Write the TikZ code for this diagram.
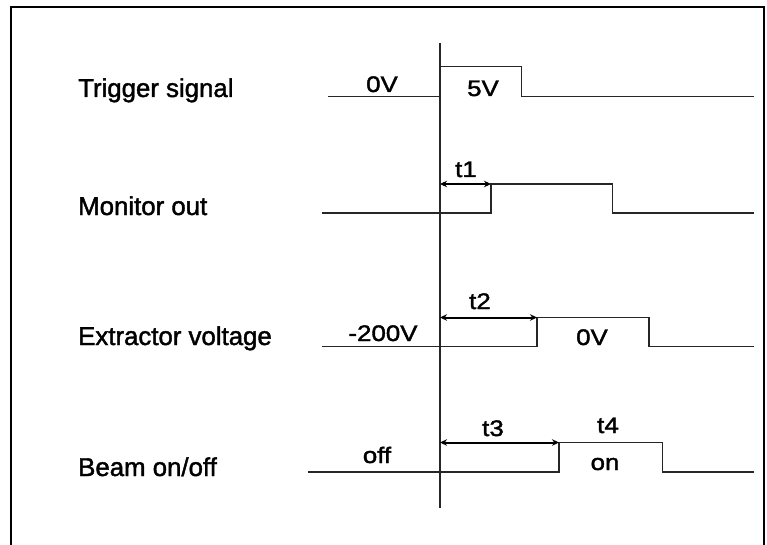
\documentclass[tikz,border=0pt]{standalone}
\usepackage{fontspec}
\setmainfont{Liberation Sans}
\newfontfamily\rowfont[FakeBold=1.6]{Liberation Sans}
\newfontfamily\valfont[FakeStretch=1.15,FakeBold=1.8]{Liberation Sans}
\usetikzlibrary{arrows.meta}
\begin{document}
\begin{tikzpicture}[x=1pt,y=-1pt,
  sig/.style={line width=1.3pt,black!85},
  axisline/.style={line width=1.4pt,black!85},
  frameline/.style={line width=2pt,black},
  dimarrow/.style={line width=2pt,{Stealth[length=7pt,width=6.5pt]}-{Stealth[length=7pt,width=6.5pt]}},
  rowlabel/.style={inner sep=0pt,anchor=base west,font=\rowfont\fontsize{25.8}{30}\selectfont},
  vallabel/.style={inner sep=0pt,anchor=base,font=\valfont\fontsize{22.5}{26}\selectfont}]
\useasboundingbox (0,0) rectangle (767,545);
% frame (open at the bottom)
\draw[frameline] (10.7,545) -- (10.7,6.7) -- (763.5,6.7) -- (763.5,545);
% time axis
\coordinate (axtop) at (440,43);
\coordinate (axbot) at (440,508);
\draw[axisline] (axtop) -- (axbot);
% row labels
\node[rowlabel] (lt) at (78,97) {Trigger signal};
\node[rowlabel] (lm) at (78,215) {Monitor out};
\node[rowlabel] (le) at (78,345) {Extractor voltage};
\node[rowlabel] (lb) at (78,476) {Beam on/off};
% trigger signal
\coordinate (t0) at (328,96.7);
\coordinate (t1a) at (440,96.7);
\coordinate (t1b) at (440,66.7);
\coordinate (t2a) at (521.5,66.7);
\coordinate (t2b) at (521.5,96.7);
\coordinate (t3) at (754,96.7);
\draw[sig] (t0) -- (t1a) -- (t1b) -- (t2a) -- (t2b) -- (t3);
\node[vallabel] (v0) at (382,92) {0V};
\node[vallabel] (v5) at (483,96) {5V};
% monitor out
\coordinate (m0) at (321.5,213);
\coordinate (m1a) at (491,213);
\coordinate (m1b) at (491,184);
\coordinate (m2a) at (612.5,184);
\coordinate (m2b) at (612.5,213);
\coordinate (m3) at (754,213);
\coordinate (ma) at (440,184);
\draw[sig] (m0) -- (m1a) -- (m1b) -- (m2a) -- (m2b) -- (m3);
\draw[dimarrow] (ma) -- (m1b);
\node[vallabel] (vt1) at (466,177) {t1};
% extractor voltage
\coordinate (e0) at (321.5,346.5);
\coordinate (e1a) at (537,346.5);
\coordinate (e1b) at (537,317.5);
\coordinate (e2a) at (649,317.5);
\coordinate (e2b) at (649,346.5);
\coordinate (e3) at (754,346.5);
\coordinate (ea) at (440,317.5);
\draw[sig] (e0) -- (e1a) -- (e1b) -- (e2a) -- (e2b) -- (e3);
\draw[dimarrow] (ea) -- (e1b);
\node[vallabel] (vt2) at (480,309) {t2};
\node[vallabel] (vm200) at (383,341) {-200V};
\node[vallabel] (v0e) at (592,345) {0V};
% beam on/off
\coordinate (b0) at (307.5,472);
\coordinate (b1a) at (559,472);
\coordinate (b1b) at (559,442.5);
\coordinate (b2a) at (662.5,442.5);
\coordinate (b2b) at (662.5,472);
\coordinate (b3) at (754,472);
\coordinate (ba) at (440,442.5);
\draw[sig] (b0) -- (b1a) -- (b1b) -- (b2a) -- (b2b) -- (b3);
\draw[dimarrow] (ba) -- (b1b);
\node[vallabel] (vt3) at (493,436) {t3};
\node[vallabel] (vt4) at (608,433) {t4};
\node[vallabel] (voff) at (377,463) {off};
\node[vallabel] (von) at (605,470) {on};
\end{tikzpicture}
\end{document}
